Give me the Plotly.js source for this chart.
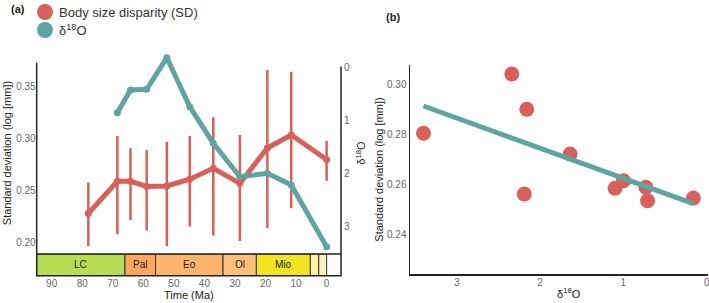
<!DOCTYPE html>
<html>
<head>
<meta charset="utf-8">
<script src="https://cdn.plot.ly/plotly-3.0.1.min.js"></script>
<style>html,body{margin:0;padding:0;background:#fff;}#chart{width:709px;height:303px;}</style>
</head>
<body>
<div id="chart"></div>
<script>
// ---- Panel (a) data ----
const ages = [78, 68.5, 64.2, 58.9, 52.3, 44.8, 37.1, 28.4, 19.4, 11.6, 0];
const sdValues = [0.228, 0.259, 0.259, 0.254, 0.2545, 0.261, 0.2715, 0.257, 0.291, 0.3035, 0.280];
const sdUpper = [0.2577, 0.3026, 0.2908, 0.2891, 0.2971, 0.3026, 0.3206, 0.3036, 0.366, 0.3644, 0.2981];
const sdLower = [0.1968, 0.2081, 0.2218, 0.2115, 0.1968, 0.2154, 0.2067, 0.2016, 0.2138, 0.2331, 0.2596];
const d18O = [null, 0.845, 0.416, 0.403, -0.195, 0.732, 1.423, 2.055, 1.99, 2.21, 3.378];

// ---- Geological timescale ----
const periodLabels = ['LC', 'Pal', 'Eo', 'Ol', 'Mio', '', ''];
const periodStart = [100.5, 66, 56, 33.9, 23, 5.33, 2.58];
const periodEnd = [66, 56, 33.9, 23, 5.33, 2.58, 0];
const periodColors = ['#b7dd55', '#fda75f', '#fdb46c', '#fec07a', '#f2e41e', '#fff5a0', '#fff0be'];

// ---- Panel (b) data ----
const bD18O = [3.40, 2.34, 2.16, 1.64, 2.19, 1.10, 1.00, 0.73, 0.71, 0.16];
const bSD = [0.2803, 0.304, 0.2899, 0.272, 0.256, 0.2583, 0.2613, 0.2587, 0.2533, 0.2544];

// tick labels
const timeTicks = [90, 80, 70, 60, 50, 40, 30, 20, 10, 0];
const sdTicksA = [0.20, 0.25, 0.30, 0.35];
const d18OTicks = [0, 1, 2, 3];
const sdTicksB = [0.24, 0.26, 0.28, 0.30];

const RED = '#d8605b';
const TEAL = '#5fa4a1';
const FONT = 'Liberation Sans, Arial, sans-serif';
const XMIN_A = 94.9, XMAX_A = -4.7;

// OLS fit for panel (b)
const n = bD18O.length;
const mx = bD18O.reduce((a, b) => a + b, 0) / n;
const my = bSD.reduce((a, b) => a + b, 0) / n;
let sxy = 0, sxx = 0;
for (let i = 0; i < n; i++) { sxy += (bD18O[i] - mx) * (bSD[i] - my); sxx += (bD18O[i] - mx) ** 2; }
const slope = sxy / sxx, intercept = my - slope * mx;
const fitX = [Math.max(...bD18O), Math.min(...bD18O)];
const fitY = fitX.map(x => intercept + slope * x);

const traces = [
  {
    type: 'bar', orientation: 'h', xaxis: 'x', yaxis: 'y3',
    y: periodLabels.map(() => 0),
    base: periodEnd,
    x: periodStart.map((s, i) => s - periodEnd[i]),
    width: 1,
    marker: {color: periodColors, line: {color: '#333', width: 1}},
    hoverinfo: 'skip', showlegend: false
  },
  {
    type: 'scatter', mode: 'lines+markers', xaxis: 'x', yaxis: 'y',
    x: ages, y: sdValues,
    line: {color: RED, width: 5},
    marker: {color: RED, size: 7},
    error_y: {type: 'data', symmetric: false,
      array: sdUpper.map((u, i) => u - sdValues[i]),
      arrayminus: sdValues.map((v, i) => v - sdLower[i]),
      color: RED, thickness: 2.5, width: 0},
    showlegend: false, hoverinfo: 'skip'
  },
  {
    type: 'scatter', mode: 'lines+markers', xaxis: 'x', yaxis: 'y2',
    x: ages, y: d18O, connectgaps: false,
    line: {color: TEAL, width: 5},
    marker: {color: TEAL, size: 7},
    showlegend: false, hoverinfo: 'skip'
  },
  {
    type: 'scatter', mode: 'markers', xaxis: 'x4', yaxis: 'y4',
    x: bD18O, y: bSD,
    marker: {color: RED, size: 15},
    showlegend: false, hoverinfo: 'skip'
  },
  {
    type: 'scatter', mode: 'lines', xaxis: 'x4', yaxis: 'y4',
    x: fitX, y: fitY,
    line: {color: TEAL, width: 5},
    showlegend: false, hoverinfo: 'skip'
  }
];

const tickFont = {size: 10, color: '#666', family: FONT};
const titleFont = {size: 11, color: '#222', family: FONT};

// timescale labels (only non-empty), centred in the visible part of each interval
const periodAnnotations = [];
periodLabels.forEach((lab, i) => {
  if (!lab) return;
  const s = Math.min(periodStart[i], XMIN_A), e = Math.max(periodEnd[i], XMAX_A);
  periodAnnotations.push({xref: 'x', yref: 'y3', x: (s + e) / 2, y: 0, showarrow: false,
    text: lab, font: {size: 10, color: '#222', family: FONT}, xanchor: 'center', yanchor: 'middle'});
});

const layout = {
  width: 709, height: 303,
  margin: {l: 0, r: 0, t: 0, b: 0},
  paper_bgcolor: '#fff', plot_bgcolor: 'rgba(0,0,0,0)',
  font: {family: FONT},
  showlegend: false,
  xaxis: {
    domain: [36.7 / 709, 341 / 709], range: [XMIN_A, XMAX_A], anchor: 'y3',
    tickvals: timeTicks, ticks: '', showgrid: false, zeroline: false, showline: false,
    tickfont: tickFont, title: {text: 'Time (Ma)', font: {size: 11, color: '#222', family: FONT}, standoff: 0}
  },
  yaxis: {
    domain: [49 / 303, 251 / 303], range: [0.189, 0.3834], anchor: 'x',
    tickvals: sdTicksA, tickformat: '.2f', ticks: '', showgrid: false, zeroline: false, showline: false,
    tickfont: tickFont, title: {text: 'Standard deviation (log [mm])', font: titleFont, standoff: 2}
  },
  yaxis2: {
    overlaying: 'y', side: 'right', anchor: 'x', range: [3.516, -0.302],
    tickvals: d18OTicks, ticks: '', showgrid: false, zeroline: false, showline: false,
    tickfont: tickFont, ticklabelstandoff: 2,
    title: {text: 'δ<sup>18</sup>O', font: titleFont, standoff: 8}
  },
  yaxis3: {
    domain: [27.3 / 303, 49 / 303], range: [-0.5, 0.5], anchor: 'x', visible: false, fixedrange: true
  },
  xaxis4: {
    domain: [410 / 709, 708 / 709], range: [3.562, -0.0156], anchor: 'y4',
    tickvals: d18OTicks, ticks: '', showgrid: false, zeroline: false,
    showline: true, linecolor: '#222', linewidth: 1.5, ticklabeloverflow: 'allow',
    ticklabelstandoff: -2,
    tickfont: tickFont
  },
  yaxis4: {
    domain: [29 / 303, 238 / 303], range: [0.224, 0.3076], anchor: 'x4',
    tickvals: sdTicksB, tickformat: '.2f', ticks: '', showgrid: false, zeroline: false,
    showline: true, linecolor: '#222', linewidth: 1.5,
    tickfont: tickFont, title: {text: 'Standard deviation (log [mm])', font: titleFont, standoff: 1}
  },
  shapes: [
    {type: 'line', xref: 'x domain', yref: 'y', x0: 0, x1: 0, y0: 0.189, y1: 0.373, line: {color: '#222', width: 1.5}},
    {type: 'line', xref: 'x domain', yref: 'y2', x0: 1, x1: 1, y0: 3.516, y1: -0.03, line: {color: '#222', width: 1.5}},
    {type: 'rect', xref: 'x domain', yref: 'y3 domain', x0: 0, x1: 1, y0: 0, y1: 1, line: {color: '#222', width: 1.5}, fillcolor: 'rgba(0,0,0,0)'},
    {type: 'circle', xref: 'paper', yref: 'paper', xsizemode: 'pixel', ysizemode: 'pixel',
      xanchor: 45 / 709, yanchor: 1 - 12 / 303, x0: -8, x1: 8, y0: -8, y1: 8, fillcolor: RED, line: {width: 0}},
    {type: 'circle', xref: 'paper', yref: 'paper', xsizemode: 'pixel', ysizemode: 'pixel',
      xanchor: 45 / 709, yanchor: 1 - 30 / 303, x0: -8, x1: 8, y0: -8, y1: 8, fillcolor: TEAL, line: {width: 0}}
  ],
  annotations: periodAnnotations.concat([
    {xref: 'paper', yref: 'paper', x: 57 / 709, y: 1 - 12 / 303, xanchor: 'left', yanchor: 'middle', showarrow: false,
      text: 'Body size disparity (SD)', font: {size: 13, color: '#333', family: FONT}},
    {xref: 'paper', yref: 'paper', x: 57 / 709, y: 1 - 30 / 303, xanchor: 'left', yanchor: 'middle', showarrow: false,
      text: 'δ<sup>18</sup>O', font: {size: 13, color: '#333', family: FONT}},
    {xref: 'paper', yref: 'paper', x: 9 / 709, y: 1 - 9 / 303, xanchor: 'left', yanchor: 'middle', showarrow: false,
      text: '<b>(a)</b>', font: {size: 11, color: '#222', family: FONT}},
    {xref: 'paper', yref: 'paper', x: 384 / 709, y: 1 - 17 / 303, xanchor: 'left', yanchor: 'middle', showarrow: false,
      text: '<b>(b)</b>', font: {size: 11, color: '#222', family: FONT}},
    {xref: 'paper', yref: 'paper', x: 569 / 709, y: 1 - 293 / 303, xanchor: 'center', yanchor: 'middle', showarrow: false,
      text: 'δ<sup>18</sup>O', font: titleFont}
  ])
};

Plotly.newPlot('chart', traces, layout, {staticPlot: true, displayModeBar: false});
</script>
</body>
</html>
